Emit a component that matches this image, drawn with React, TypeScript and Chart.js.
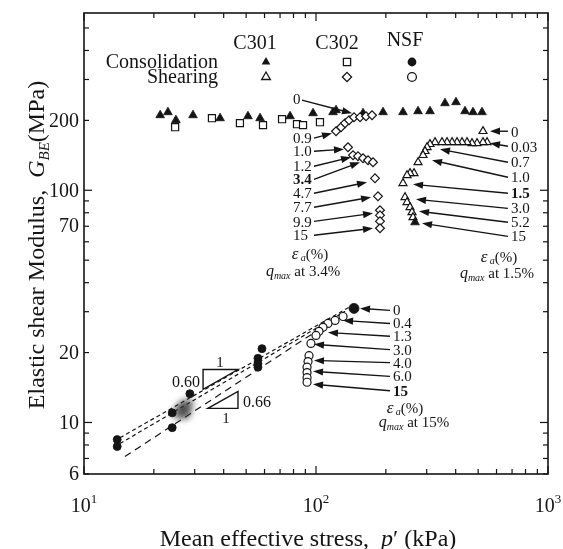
import { useEffect, useRef } from 'react';
import { Chart, registerables } from 'chart.js';

Chart.register(...registerables);

type P = [number, number];

// ---- measured series: [p' (kPa), G_BE (MPa)] ----
const c301Consolidation: P[] = [
  [21.3, 210.5], [23.0, 216.9], [24.9, 200.4], [29.5, 210.5], [38.6, 204.3], [50.9, 208.4],
  [57.4, 204.3], [77.3, 208.4], [97.1, 214.7], [118.4, 216.9], [122.0, 221.2], [159.5, 214.7],
  [194.5, 216.9], [237.1, 216.9], [275.3, 219.0], [310.0, 219.0], [359.7, 237.1], [401.2, 239.5],
  [438.8, 219.0], [475.0, 216.9], [519.4, 216.9],
];
const c301Shearing: P[] = [
  [524.6, 179.6], [546.0, 161.0], [524.6, 161.0], [494.3, 159.4], [470.3, 159.4], [447.6, 161.0],
  [425.9, 161.0], [405.3, 161.0], [385.8, 161.0], [367.0, 161.0], [349.2, 161.0], [325.8, 161.0],
  [310.0, 157.9], [301.0, 153.2], [295.1, 147.3], [289.3, 141.6], [275.3, 132.0], [264.5, 118.4],
  [254.2, 118.4], [246.8, 116.0], [237.1, 107.2], [241.9, 93.3], [246.8, 88.8], [254.2, 84.5],
  [259.3, 80.4], [261.9, 76.5],
];
const c301Final: P[] = [[267.2, 72.8]];

const c302Consolidation: P[] = [
  [24.7, 186.9], [35.6, 204.3], [47.0, 194.5], [59.1, 190.7], [71.4, 202.3], [82.8, 192.5],
  [87.9, 190.7], [104.0, 196.4],
];
const c302Shearing: P[] = [
  [122.0, 179.6], [128.2, 186.9], [133.4, 194.5], [138.8, 200.4], [145.8, 206.4], [154.8, 206.4],
  [164.3, 208.4], [174.4, 210.5], [137.4, 153.2], [144.4, 141.6], [151.7, 140.2], [159.5, 137.4],
  [167.6, 134.7], [176.1, 132.0], [179.6, 112.6], [185.0, 94.2], [188.7, 82.0], [188.7, 78.0],
  [188.7, 73.5], [188.7, 68.6],
];

const nsfConsolidation: P[] = [
  [13.9, 8.44], [13.9, 7.88], [24.0, 11.0], [24.0, 9.5], [28.6, 13.3], [58.5, 20.8],
  [56.2, 18.9], [56.2, 17.95], [56.2, 17.3],
];
const nsfSmeared: P[] = [[26.5, 11.6], [28.1, 12.0], [27.3, 10.9], [25.4, 10.9], [27.0, 11.4]];
const nsfShearStart: P[] = [[145.8, 31.0]];
const nsfShearing: P[] = [
  [130.8, 28.6], [120.8, 27.5], [112.6, 26.7], [107.2, 25.7], [103.0, 24.7], [100.0, 23.7],
  [95.1, 21.9], [93.3, 19.4], [92.4, 18.3], [91.5, 17.3], [91.5, 16.4], [91.5, 15.6], [91.5, 14.9],
];

// power-law fits through the low-stress NSF data
const fitUpperA: P[] = [[14.3, 8.6], [143.0, 31.9]];
const fitUpperB: P[] = [[14.3, 8.12], [133.4, 30.1]];
const fitLower: P[] = [[15.0, 7.13], [114.9, 27.0]];

// axis labels
const yTickLabels = [6, 10, 20, 70, 100, 200];
const xTickExponents = [1, 2, 3];

// strain annotations: label, label y, arrow start, arrow end (data units)
const c302Strains = ['0', '0.9', '1.0', '1.2', '3.4', '4.7', '7.7', '9.9', '15'];
const c302LabelY = [246.7, 167.6, 147.3, 126.9, 111.5, 97.1, 84.5, 72.8, 64.0];
const c302ArrowFrom: P[] = [[87.0, 244.3], [98, 167.6], [98, 147.3], [98, 126.9], [98, 111.5], [98, 97.1], [98, 84.5], [98, 73.5], [98, 64.0]];
const c302ArrowTo: P[] = [[143.0, 214.7], [117.2, 176.1], [132.0, 150.2], [141.6, 138.8], [154.8, 132.0], [165.9, 108.3], [172.7, 93.3], [176.1, 79.6], [176.1, 68.6]];

const c301Strains = ['0', '0.03', '0.7', '1.0', '1.5', '3.0', '5.2', '15'];
const c301LabelY = [177.8, 153.2, 132.0, 113.8, 97.1, 83.6, 72.8, 63.3];
const c301ArrowFrom: P[] = [[672, 179.6], [672, 154.7], [672, 132.0], [672, 113.8], [672, 97.1], [672, 83.6], [672, 72.8], [672, 63.3]];
const c301ArrowTo: P[] = [[562.3, 179.6], [562.3, 159.4], [342.3, 150.2], [316.2, 134.7], [261.9, 106.1], [269.8, 91.4], [278.0, 81.2], [286.4, 72.1]];

const nsfStrains = ['0', '0.4', '1.3', '3.0', '4.0', '6.0', '15'];
const nsfLabelY = [30.4, 26.7, 23.5, 20.6, 18.1, 15.8, 13.7];
const nsfArrowFrom: P[] = [[208.4, 30.4], [208.4, 26.7], [208.4, 23.5], [208.4, 20.6], [208.4, 18.1], [208.4, 15.8], [208.4, 13.7]];
const nsfArrowTo: P[] = [[154.8, 31.0], [130.8, 27.5], [112.6, 24.4], [98.0, 21.7], [98.0, 18.5], [97.1, 16.6], [97.1, 14.6]];

const W = 563;
const H = 549;
const SERIF = '"Liberation Serif", "Times New Roman", Times, serif';
const INK = '#141414';

type Run = { t: string; size: number; italic?: boolean; bold?: boolean; dy?: number };

const fontOf = (r: Run) => `${r.italic ? 'italic ' : ''}${r.bold ? 'bold ' : ''}${r.size}px ${SERIF}`;

function drawRuns(ctx: CanvasRenderingContext2D, runs: Run[], x: number, y: number, align: 'left' | 'center' | 'right') {
  let total = 0;
  for (const r of runs) {
    ctx.font = fontOf(r);
    total += ctx.measureText(r.t).width;
  }
  let cx = align === 'left' ? x : align === 'center' ? x - total / 2 : x - total;
  ctx.textAlign = 'left';
  ctx.textBaseline = 'alphabetic';
  for (const r of runs) {
    ctx.font = fontOf(r);
    ctx.fillText(r.t, cx, y + (r.dy ?? 0));
    cx += ctx.measureText(r.t).width;
  }
}

function arrow(ctx: CanvasRenderingContext2D, x1: number, y1: number, x2: number, y2: number) {
  const a = Math.atan2(y2 - y1, x2 - x1);
  const L = 10;
  const hw = 3.6;
  ctx.beginPath();
  ctx.moveTo(x1, y1);
  ctx.lineTo(x2 - L * 0.6 * Math.cos(a), y2 - L * 0.6 * Math.sin(a));
  ctx.stroke();
  ctx.beginPath();
  ctx.moveTo(x2, y2);
  ctx.lineTo(x2 - L * Math.cos(a) + hw * Math.sin(a), y2 - L * Math.sin(a) - hw * Math.cos(a));
  ctx.lineTo(x2 - L * Math.cos(a) - hw * Math.sin(a), y2 - L * Math.sin(a) + hw * Math.cos(a));
  ctx.closePath();
  ctx.fill();
}

function legendMarker(ctx: CanvasRenderingContext2D, kind: string, x: number, y: number, filled: boolean) {
  ctx.beginPath();
  if (kind === 'triangle') {
    const r = 5;
    ctx.moveTo(x, y - r);
    ctx.lineTo(x + r * 0.866, y + r * 0.5);
    ctx.lineTo(x - r * 0.866, y + r * 0.5);
    ctx.closePath();
  } else if (kind === 'rect') {
    ctx.rect(x - 3.6, y - 3.6, 7.2, 7.2);
  } else if (kind === 'diamond') {
    const r = 4.6;
    ctx.moveTo(x, y - r);
    ctx.lineTo(x + r, y);
    ctx.lineTo(x, y + r);
    ctx.lineTo(x - r, y);
    ctx.closePath();
  } else {
    ctx.arc(x, y, 4.4, 0, Math.PI * 2);
  }
  if (filled) {
    ctx.fillStyle = INK;
    ctx.fill();
  } else {
    ctx.fillStyle = '#fff';
    ctx.fill();
    ctx.lineWidth = 1.3;
    ctx.strokeStyle = INK;
    ctx.stroke();
  }
}

const smearPlugin = {
  id: 'smear',
  beforeDatasetDraw(chart: any, args: any) {
    if (chart.data.datasets[args.index].label === 'smear') {
      chart.ctx.save();
      chart.ctx.filter = 'blur(3px)';
    }
  },
  afterDatasetDraw(chart: any, args: any) {
    if (chart.data.datasets[args.index].label === 'smear') chart.ctx.restore();
  },
};

const decorPlugin = {
  id: 'decor',
  afterDatasetsDraw(chart: any) {
    const ctx: CanvasRenderingContext2D = chart.ctx;
    const xs = chart.scales.x;
    const ys = chart.scales.y;
    const { left, right, top, bottom } = chart.chartArea;
    const px = (v: number) => xs.getPixelForValue(v);
    const py = (v: number) => ys.getPixelForValue(v);
    const at = (p: P): P => [px(p[0]), py(p[1])];

    ctx.save();
    ctx.strokeStyle = INK;
    ctx.fillStyle = INK;

    // frame
    ctx.lineWidth = 1.6;
    ctx.strokeRect(left, top, right - left, bottom - top);

    // inward ticks on all four sides
    ctx.lineWidth = 1.2;
    const seg = (x1: number, y1: number, x2: number, y2: number) => {
      ctx.beginPath();
      ctx.moveTo(x1, y1);
      ctx.lineTo(x2, y2);
      ctx.stroke();
    };
    for (let d = 10; d <= 1000; d *= 10) {
      for (let k = 1; k < 10; k++) {
        const v = k * d;
        if (v > 1000) break;
        const x = px(v);
        const len = k === 1 ? 8 : 5;
        seg(x, bottom, x, bottom - len);
        seg(x, top, x, top + len);
      }
    }
    for (let d = 1; d <= 100; d *= 10) {
      for (let k = 1; k < 10; k++) {
        const v = k * d;
        if (v < 6 || v > 580) continue;
        const y = py(v);
        const len = k === 1 ? 8 : 5;
        seg(left, y, left + len, y);
        seg(right, y, right - len, y);
      }
    }

    // tick labels
    ctx.font = `20px ${SERIF}`;
    ctx.textAlign = 'right';
    ctx.textBaseline = 'middle';
    for (const v of yTickLabels) ctx.fillText(String(v), left - 5, py(v) + 1);
    for (const e of xTickExponents) {
      const x = px(Math.pow(10, e));
      drawRuns(ctx, [{ t: '10', size: 20 }, { t: String(e), size: 13, dy: -9 }], x, bottom + 38, 'center');
    }

    // axis titles
    drawRuns(ctx, [
      { t: 'Mean effective stress,  ', size: 24 },
      { t: 'p', size: 24, italic: true },
      { t: '\u2032', size: 24 },
      { t: ' (kPa)', size: 24 },
    ], (left + right) / 2 - 8, 546, 'center');
    ctx.save();
    ctx.translate(36, 245);
    ctx.rotate(-Math.PI / 2);
    drawRuns(ctx, [
      { t: 'Elastic shear Modulus,  ', size: 24 },
      { t: 'G', size: 24, italic: true },
      { t: 'BE', size: 15, italic: true, dy: 5 },
      { t: '(MPa)', size: 24 },
    ], 0, 8, 'center');
    ctx.restore();

    // legend block
    ctx.fillStyle = INK;
    drawRuns(ctx, [{ t: 'C301', size: 20 }], 255, 49, 'center');
    drawRuns(ctx, [{ t: 'C302', size: 20 }], 337, 49, 'center');
    drawRuns(ctx, [{ t: 'NSF', size: 20 }], 405, 46, 'center');
    drawRuns(ctx, [{ t: 'Consolidation', size: 20 }], 218, 68, 'right');
    drawRuns(ctx, [{ t: 'Shearing', size: 20 }], 218, 83, 'right');
    legendMarker(ctx, 'triangle', 266, 62, true);
    legendMarker(ctx, 'rect', 347, 62, false);
    legendMarker(ctx, 'circle', 412, 62, true);
    legendMarker(ctx, 'triangle', 266, 77, false);
    legendMarker(ctx, 'diamond', 347, 77, false);
    legendMarker(ctx, 'circle', 412, 77, false);

    // strain labels with arrows
    ctx.fillStyle = INK;
    ctx.strokeStyle = INK;
    ctx.lineWidth = 1.4;
    const group = (labels: string[], ys2: number[], lx: number, from: P[], to: P[], boldLabel: string) => {
      labels.forEach((s, i) => {
        drawRuns(ctx, [{ t: s, size: 15, bold: s === boldLabel }], px(lx), py(ys2[i]) + 5, 'left');
        const a = at(from[i]);
        const b = at(to[i]);
        arrow(ctx, a[0], a[1], b[0], b[1]);
      });
    };
    group(c302Strains, c302LabelY, 79.6, c302ArrowFrom, c302ArrowTo, '3.4');
    group(c301Strains, c301LabelY, 692.5, c301ArrowFrom, c301ArrowTo, '1.5');
    group(nsfStrains, nsfLabelY, 214.7, nsfArrowFrom, nsfArrowTo, '15');

    const strainUnit = (c: P, q: P, qText: string) => {
      const a = at(c);
      drawRuns(ctx, [
        { t: '\u03b5', size: 17, italic: true },
        { t: ' a', size: 10, italic: true, dy: 2 },
        { t: '(%)', size: 15 },
      ], a[0], a[1] + 5, 'center');
      const b = at(q);
      drawRuns(ctx, [
        { t: 'q', size: 16, italic: true },
        { t: 'max', size: 10, italic: true, dy: 3 },
        { t: ' at ' + qText, size: 15 },
      ], b[0], b[1] + 5, 'center');
    };
    strainUnit([94.2, 53.0], [87.9, 44.8], '3.4%');
    strainUnit([614.9, 51.4], [602.8, 43.9], '1.5%');
    strainUnit([241.9, 11.6], [264.5, 10.0], '15%');

    // slope triangles for the fitted lines
    ctx.lineWidth = 1.4;
    const tri = (pts: P[]) => {
      ctx.beginPath();
      pts.forEach((p, i) => {
        const q = at(p);
        if (i === 0) ctx.moveTo(q[0], q[1]);
        else ctx.lineTo(q[0], q[1]);
      });
      ctx.closePath();
      ctx.stroke();
    };
    tri([[32.6, 13.9], [32.6, 16.9], [46.1, 16.9]]);
    tri([[34.2, 11.5], [46.1, 11.5], [46.1, 13.6]]);
    let p = at([31.6, 15.0]);
    drawRuns(ctx, [{ t: '0.60', size: 16 }], p[0], p[1] + 5, 'right');
    p = at([38.6, 18.3]);
    drawRuns(ctx, [{ t: '1', size: 15 }], p[0], p[1] + 5, 'center');
    p = at([48.4, 12.3]);
    drawRuns(ctx, [{ t: '0.66', size: 16 }], p[0], p[1] + 5, 'left');
    p = at([40.9, 10.5]);
    drawRuns(ctx, [{ t: '1', size: 15 }], p[0], p[1] + 5, 'center');

    ctx.restore();
  },
};

const pts = (a: P[]) => a.map(([x, y]) => ({ x, y }));

const fitSet = (data: P[], dash: number[]) => ({
  label: 'fit',
  data: pts(data),
  showLine: true,
  borderColor: INK,
  borderWidth: 1.2,
  borderDash: dash,
  pointRadius: 0,
  fill: false,
  order: 20,
});

const markerSet = (label: string, data: P[], style: string, radius: number, filled: boolean, order: number) => ({
  label,
  data: pts(data),
  showLine: false,
  pointStyle: style,
  pointRadius: radius,
  pointBackgroundColor: filled ? INK : '#ffffff',
  pointBorderColor: INK,
  pointBorderWidth: filled ? 0.8 : 1.2,
  order,
});

export default function App() {
  const ref = useRef<HTMLCanvasElement>(null);

  useEffect(() => {
    if (!ref.current) return;
    const chart = new Chart(ref.current, {
      type: 'scatter',
      data: {
        datasets: [
          markerSet('nsfShearStart', nsfShearStart, 'circle', 5, true, 1),
          markerSet('nsfShearing', nsfShearing, 'circle', 4, false, 2),
          markerSet('nsfConsolidation', nsfConsolidation, 'circle', 4, true, 3),
          {
            label: 'smear',
            data: pts(nsfSmeared),
            showLine: false,
            pointStyle: 'circle',
            pointRadius: 6,
            pointBackgroundColor: 'rgba(50,50,50,0.55)',
            pointBorderWidth: 0,
            order: 4,
          },
          markerSet('c301Final', c301Final, 'triangle', 5, true, 5),
          markerSet('c301Shearing', c301Shearing, 'triangle', 4.6, false, 6),
          markerSet('c302Shearing', c302Shearing, 'rectRot', 4.4, false, 7),
          markerSet('c301Consolidation', c301Consolidation, 'triangle', 5, true, 8),
          markerSet('c302Consolidation', c302Consolidation, 'rect', 5, false, 9),
          fitSet(fitUpperA, [4, 3]),
          fitSet(fitUpperB, [4, 3]),
          fitSet(fitLower, [7, 5]),
        ] as any,
      },
      options: {
        animation: false,
        responsive: false,
        devicePixelRatio: 1,
        events: [],
        layout: { padding: { left: 84, right: 15, top: 13, bottom: 75 } },
        plugins: { legend: { display: false }, tooltip: { enabled: false } },
        scales: {
          x: { type: 'logarithmic', min: 10, max: 1000, display: false },
          y: { type: 'logarithmic', min: 6, max: 580, display: false },
        },
      },
      plugins: [smearPlugin, decorPlugin],
    } as any);
    return () => chart.destroy();
  }, []);

  return (
    <div style={{ position: 'fixed', left: 0, top: 0, width: W, height: H, background: '#fff' }}>
      <canvas ref={ref} width={W} height={H} style={{ display: 'block', width: W, height: H }} />
    </div>
  );
}
